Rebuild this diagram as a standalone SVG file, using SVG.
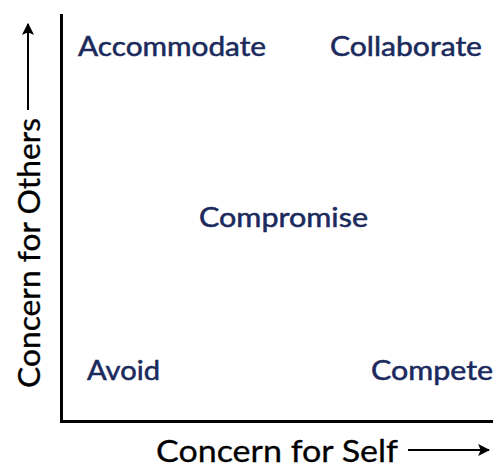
<svg xmlns="http://www.w3.org/2000/svg" width="493" height="468" viewBox="0 0 493 468">
  <defs>
    <style>
      .mode { font-family: Lato, "Open Sans", sans-serif; font-size: 26px; fill: #1b2a5c; stroke: #1b2a5c; stroke-width: 0.5; }
      .axis-label { font-family: Lato, "Open Sans", sans-serif; font-size: 31px; fill: #000; stroke: #000; stroke-width: 0.3; }
      .axis { stroke: #000; stroke-width: 3; fill: none; }
      .dir { stroke: #000; stroke-width: 2; fill: none; }
    </style>
    <marker id="head" viewBox="0 0 10 10" refX="9" refY="5" markerWidth="6" markerHeight="6" orient="auto" markerUnits="strokeWidth">
      <path d="M0,0 L10,5 L0,10 L2,5 z" fill="#000"/>
    </marker>
  </defs>
  <rect width="493" height="468" fill="#fff"/>

  <!-- axes and direction arrows -->
  <g id="connectors">
    <path class="axis" d="M61.5,14 V421.5 H493"/>
    <line class="dir" x1="28" y1="110" x2="28" y2="24" marker-end="url(#head)"/>
    <line class="dir" x1="408" y1="450" x2="489" y2="450" marker-end="url(#head)"/>
  </g>

  <g id="axis-x"><text class="axis-label" x="156" y="462" textLength="242" lengthAdjust="spacingAndGlyphs">Concern for Self</text></g>
  <g id="axis-y"><text class="axis-label" transform="translate(40,388) rotate(-90)" textLength="270" lengthAdjust="spacingAndGlyphs">Concern for Others</text></g>

  <g id="accommodate"><text class="mode" x="78" y="56" textLength="188" lengthAdjust="spacingAndGlyphs">Accommodate</text></g>
  <g id="collaborate"><text class="mode" x="330" y="56" textLength="152" lengthAdjust="spacingAndGlyphs">Collaborate</text></g>
  <g id="compromise"><text class="mode" x="199" y="227" textLength="169" lengthAdjust="spacingAndGlyphs">Compromise</text></g>
  <g id="avoid"><text class="mode" x="87" y="380" textLength="73" lengthAdjust="spacingAndGlyphs">Avoid</text></g>
  <g id="compete"><text class="mode" x="371" y="380" textLength="122" lengthAdjust="spacingAndGlyphs">Compete</text></g>
</svg>
